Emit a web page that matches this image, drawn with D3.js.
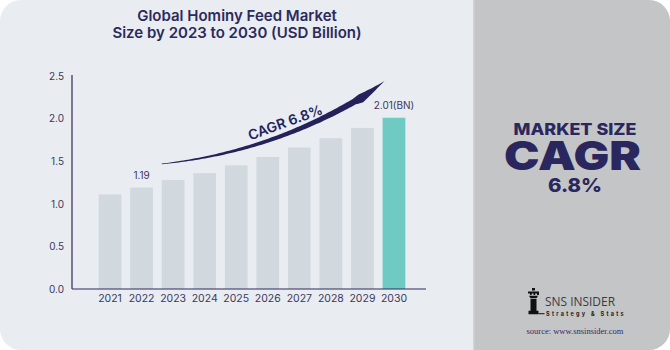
<!DOCTYPE html>
<html>
<head>
<meta charset="utf-8">
<script src="https://cdn.jsdelivr.net/npm/d3@7"></script>
<style>
  html, body { margin: 0; padding: 0; background: #ffffff; }
  svg { display: block; }
  text { font-family: "Inter", "Open Sans", sans-serif; }
</style>
</head>
<body>
<svg id="chart"></svg>
<script>
// chart data
const years = ["2021", "2022", "2023", "2024", "2025", "2026", "2027", "2028", "2029", "2030"];
const marketSize = [1.11, 1.19, 1.28, 1.36, 1.45, 1.55, 1.66, 1.77, 1.89, 2.01];
const yTicks = [0, 0.5, 1.0, 1.5, 2.0, 2.5];
const titleLines = ["Global Hominy Feed Market", "Size by 2023 to 2030 (USD Billion)"];
const valueLabels = { "2022": "1.19", "2030": "2.01(BN)" };
const cagrText = "CAGR 6.8%";

const W = 670, H = 350;
const navy = "#2c2a5c";

const svg = d3.select("#chart").attr("width", W).attr("height", H);

// card background: left light panel + right grey panel, rounded corners
const clip = svg.append("clipPath").attr("id", "card");
clip.append("rect").attr("width", W).attr("height", H).attr("rx", 21);
const bg = svg.append("g").attr("clip-path", "url(#card)");
bg.append("rect").attr("width", W).attr("height", H).attr("fill", "#e9ecf1");
bg.append("rect").attr("x", 473).attr("width", W - 473).attr("height", H).attr("fill", "#c4c5c7");
bg.append("rect").attr("x", 473).attr("width", 1.5).attr("height", H).attr("fill", "#d3d4d6");

// title, one text per line
svg.selectAll(".title")
    .data(titleLines).enter().append("text")
    .attr("class", "title")
    .attr("x", 237).attr("y", (d, i) => 21 + i * 17)
    .attr("text-anchor", "middle")
    .attr("fill", navy)
    .style("font-size", "15px").style("font-weight", 600)
    .text(d => d);

// scales
const x = d3.scaleBand().domain(years).range([84, 420]).paddingInner(0.28).paddingOuter(0.465);
const y = d3.scaleLinear().domain([0, 2.5]).range([289, 76]);
const axisX0 = 72, axisX1 = 426;

const chart = svg.append("g");

// bars
chart.selectAll(".bar")
    .data(years.map((d, i) => ({ year: d, value: marketSize[i] })))
    .enter().append("rect")
    .attr("class", "bar")
    .attr("x", d => x(d.year))
    .attr("y", d => y(d.value))
    .attr("width", x.bandwidth())
    .attr("height", d => y(0) - y(d.value))
    .attr("fill", d => d.year === "2030" ? "#6fcac4" : "#d2d9de");

// value labels
chart.selectAll(".vlabel")
    .data(Object.keys(valueLabels))
    .enter().append("text")
    .attr("class", "vlabel")
    .attr("x", d => x(d) + x.bandwidth() / 2)
    .attr("y", d => y(marketSize[years.indexOf(d)]) - 9)
    .attr("text-anchor", "middle")
    .attr("fill", "#3a3860")
    .style("font-size", "10px")
    .text(d => valueLabels[d]);

// axes
const yAxis = d3.axisLeft(y).tickValues(yTicks).tickFormat(d3.format(".1f")).tickSize(0).tickPadding(8);
const yg = chart.append("g").attr("transform", `translate(${axisX0},0)`).call(yAxis);
yg.select(".domain").remove();
yg.selectAll("text").attr("fill", "#3a3860").style("font-size", "10px").style("font-family", "Inter, sans-serif");

const xAxis = d3.axisBottom(x).tickSize(0).tickPadding(6);
const xg = chart.append("g").attr("transform", `translate(0,${y(0)})`).call(xAxis);
xg.select(".domain").remove();
xg.selectAll("text").attr("fill", "#3a3860").style("font-size", "10.5px").style("font-family", "Inter, sans-serif");

chart.append("line")
    .attr("x1", axisX0).attr("x2", axisX0).attr("y1", y(2.5) - 1).attr("y2", y(0))
    .attr("stroke", navy).attr("stroke-width", 1.2);
chart.append("line")
    .attr("x1", axisX0).attr("x2", axisX1).attr("y1", y(0)).attr("y2", y(0))
    .attr("stroke", navy).attr("stroke-width", 1.2);

// CAGR swoosh arrow (quadratic curve with growing width and a slim head)
const p0 = [x("2023"), y(1.47)];
const p2 = [x("2030") + 2, y(2.44)];
const p1 = [x("2027") - 5, y(1.63)];
function bez(t) {
    const a = (1 - t) * (1 - t), b = 2 * (1 - t) * t, c = t * t;
    return [a * p0[0] + b * p1[0] + c * p2[0], a * p0[1] + b * p1[1] + c * p2[1]];
}
function tang(t) {
    const dx = 2 * (1 - t) * (p1[0] - p0[0]) + 2 * t * (p2[0] - p1[0]);
    const dy = 2 * (1 - t) * (p1[1] - p0[1]) + 2 * t * (p2[1] - p1[1]);
    const l = Math.hypot(dx, dy);
    return [dx / l, dy / l];
}
function halfWidth(t) {
    if (t < 0.85) return 0.3 + 2.8 * Math.pow(t / 0.85, 0.9);
    if (t < 0.88) return 3.1 + (t - 0.85) / 0.03 * 1.4;
    return 4.5 * Math.pow(1 - (t - 0.88) / 0.12, 1.1);
}
const up = [], down = [];
for (let i = 0; i <= 100; i++) {
    const t = i / 100, p = bez(t), d = tang(t), w = halfWidth(t);
    const n = [d[1], -d[0]];
    up.push([p[0] + n[0] * w * 0.6, p[1] + n[1] * w * 0.6]);
    down.push([p[0] - n[0] * w * 1.4, p[1] - n[1] * w * 1.4]);
}
chart.append("path")
    .attr("d", d3.line()(up.concat(down.reverse())) + "Z")
    .attr("fill", "#25215a");

chart.append("text")
    .attr("transform", `translate(287,127) rotate(-20)`)
    .attr("text-anchor", "middle")
    .attr("fill", "#25215a")
    .style("font-size", "14px").style("font-weight", 600)
    .text(cagrText);

// right panel text
const side = svg.append("g").attr("text-anchor", "middle").attr("fill", "#2a275e");
side.append("text").attr("x", 575).attr("y", 134.5)
    .attr("textLength", 123).attr("lengthAdjust", "spacingAndGlyphs")
    .style("font-size", "16.5px").style("font-weight", 800).text("MARKET SIZE");
side.append("text").attr("x", 572.5).attr("y", 169.5)
    .attr("textLength", 137).attr("lengthAdjust", "spacingAndGlyphs")
    .style("font-size", "39.5px").style("font-weight", 900).text("CAGR");
side.append("text").attr("x", 575).attr("y", 191.5)
    .attr("textLength", 54).attr("lengthAdjust", "spacingAndGlyphs")
    .style("font-size", "19px").style("font-weight", 800).text("6.8%");

// logo (rook icon)
const logo = svg.append("g").attr("transform", "translate(526,288)");
logo.append("path")
    .attr("d", "M6,0 h3 v2.5 h-3z M2,3.5 h11 v3.5 h-2 v-1.5 h-1.8 v1.5 h-1.7 v-1.5 h-1.8 v1.5 h-1.7 v-1.5 h-2z M3,7.8 h9 l-1.3,2.2 h-6.4z M4.5,10.8 h6 v12 h-6z M2.5,22.8 h10 v3.4 h-10z")
    .attr("fill", "#111");
logo.append("rect").attr("x", 12.5).attr("y", 25.2).attr("width", 6).attr("height", 1).attr("fill", "#111");
svg.append("text").attr("x", 545).attr("y", 306)
    .attr("fill", "#3b3b3f")
    .attr("textLength", 70).attr("lengthAdjust", "spacingAndGlyphs")
    .style("font-size", "13px").style("font-family", "'Open Sans', sans-serif")
    .text("SNS INSIDER");
svg.append("text").attr("x", 546).attr("y", 315.5)
    .attr("fill", "#222")
    .style("font-size", "5.5px").style("letter-spacing", "2.3px").style("font-weight", 700)
    .text("Strategy & Stats");
svg.append("text").attr("x", 575).attr("y", 334)
    .attr("text-anchor", "middle")
    .attr("fill", "#2f2c6b")
    .style("font-size", "8.5px").style("font-family", "'Liberation Serif', serif")
    .text("source: www.snsinsider.com");
</script>
</body>
</html>
